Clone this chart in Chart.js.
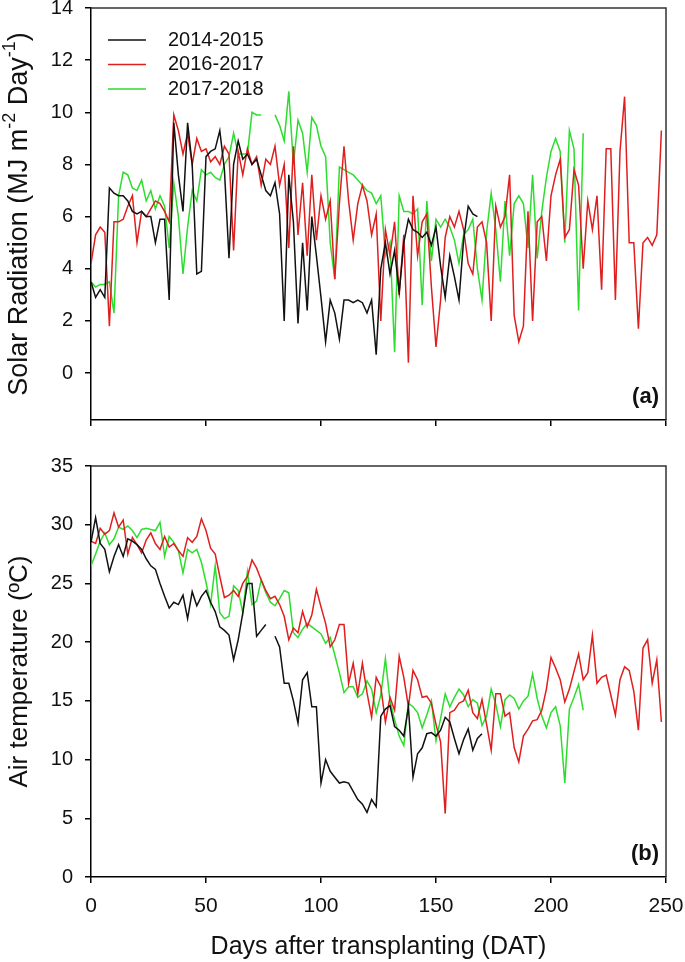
<!DOCTYPE html>
<html>
<head>
<meta charset="utf-8">
<script src="https://cdn.jsdelivr.net/npm/chart.js@4.4.1/dist/chart.umd.min.js"></script>
<style>
html, body { margin: 0; padding: 0; background: #fff; }
#wrap { position: relative; width: 685px; height: 962px; overflow: hidden; }
#topBox { position: absolute; left: 0; top: 0; width: 685px; height: 440px; }
#botBox { position: absolute; left: 0; top: 440px; width: 685px; height: 522px; }
</style>
</head>
<body>
<div id="wrap">
	<div id="topBox"><canvas id="solarChart"></canvas></div>
	<div id="botBox"><canvas id="tempChart"></canvas></div>
</div>
<script>
// days after transplanting, sampled every second day
const days = [0,2,4,6,8,10,12,14,16,18,20,22,24,26,28,30,32,34,36,38,40,42,44,46,48,50,52,54,56,58,
	60,62,64,66,68,70,72,74,76,78,80,82,84,86,88,90,92,94,96,98,100,102,104,106,108,110,112,114,116,118,
	120,122,124,126,128,130,132,134,136,138,140,142,144,146,148,150,152,154,156,158,160,162,164,166,168,170,172,174,176,178,
	180,182,184,186,188,190,192,194,196,198,200,202,204,206,208,210,212,214,216,218,220,222,224,226,228,230,232,234,236,238,
	240,242,244,246,248];
const seasons = ['2014-2015', '2016-2017', '2017-2018'];
const seasonColors = ['#111111', '#e01e1e', '#2ddd2d'];

// solar radiation (MJ m-2 day-1)
const solar1415 = [3.5,2.9,3.2,2.9,7.1,6.9,6.8,6.8,6.6,6.2,6.1,6.2,6.0,6.0,5.0,5.9,5.9,2.8,9.6,7.6,
	6.2,9.6,8.0,3.8,3.9,8.3,8.5,8.6,9.3,7.8,4.4,8.0,8.9,8.2,8.4,8.0,8.2,7.6,7.0,6.8,
	7.3,6.1,2.0,7.6,5.8,1.9,5.0,2.4,6.0,4.5,2.9,1.2,2.8,2.3,1.3,2.8,2.8,2.7,2.8,2.7,
	2.3,2.8,0.7,4.0,5.0,3.8,4.7,3.1,5.0,5.9,5.5,5.4,5.2,5.4,4.9,5.6,4.1,2.9,4.5,3.7,
	2.8,5.1,6.4,6.1,6.0];
const solar1617 = [4.2,5.3,5.6,5.4,1.8,5.8,5.8,5.9,6.4,6.8,5.0,6.2,6.0,6.3,6.6,6.5,6.2,5.8,9.9,9.3,
	8.4,9.2,8.0,9.0,8.5,8.6,8.1,8.3,8.0,8.7,8.4,4.7,8.5,7.6,8.6,8.0,8.3,7.2,8.2,8.0,
	8.7,7.2,8.0,4.8,8.7,5.3,7.3,4.5,7.6,5.1,6.8,5.9,6.6,3.6,6.5,8.7,6.6,5.1,6.5,7.2,
	6.6,5.3,6.1,2.0,5.5,4.5,5.8,3.0,5.3,0.4,6.8,4.5,5.8,6.1,3.3,1.0,2.8,5.2,6.0,5.6,
	6.2,5.5,4.2,3.8,5.6,5.8,5.0,2.0,6.4,5.6,6.0,7.6,2.2,1.2,1.8,6.2,2.0,5.8,6.0,4.3,
	6.8,7.6,8.2,5.2,5.5,7.8,7.2,4.0,6.6,5.5,6.8,3.2,8.6,8.6,2.8,8.5,10.6,5.0,5.0,1.7,
	5.0,5.2,4.9,5.3,9.3];
const solar1718 = [3.5,3.3,3.4,3.4,3.5,2.3,6.8,7.7,7.6,7.1,7.0,7.4,6.6,7.0,6.3,6.8,6.4,4.8,7.3,6.0,
	3.8,5.6,7.0,6.6,7.8,7.6,7.7,7.5,7.4,8.0,8.3,9.2,8.4,8.4,8.4,10.0,9.9,9.9,null,null,
	9.9,9.5,8.9,10.8,8.0,9.7,9.2,7.7,9.8,9.5,8.7,8.3,5.0,3.6,7.9,7.8,7.7,7.6,7.4,7.2,
	7.0,6.9,6.5,6.8,4.5,5.0,0.8,6.8,6.2,6.2,6.1,6.3,2.6,6.6,4.3,5.9,5.6,5.9,5.6,5.1,
	4.2,5.3,5.5,5.9,4.0,2.8,5.4,6.9,5.5,3.5,6.6,4.5,6.5,6.8,6.5,4.8,7.6,4.4,6.2,7.5,
	8.5,9.0,8.5,5.0,9.3,8.6,2.4,9.2];

// air temperature (ºC)
const temp1415 = [28.5,30.6,28.4,27.9,26.0,27.3,28.3,27.3,28.8,28.6,28.3,27.9,27.1,26.5,26.2,25.0,23.9,22.9,23.4,23.2,
	24.0,22.0,24.3,23.1,23.9,24.4,23.4,22.6,21.3,21.0,20.6,18.5,20.2,22.5,25.0,25.0,20.5,21.0,21.5,null,
	20.5,19.6,16.5,16.5,15.0,13.1,16.8,17.4,14.5,14.5,8.0,10.0,9.0,8.5,8.0,8.1,8.0,7.3,6.6,6.2,
	5.5,6.6,6.0,13.7,14.3,14.6,12.8,12.5,12.0,14.5,8.5,10.5,11.0,12.2,12.3,12.0,12.5,13.6,13.2,11.8,
	10.5,11.7,12.6,10.8,11.8,12.2];
const temp1617 = [28.6,28.4,29.7,29.2,29.5,31.0,29.8,30.4,27.5,28.9,28.3,27.6,28.7,29.3,28.4,27.9,29.0,28.1,28.4,27.8,
	27.3,28.9,28.5,29.0,30.5,29.5,28.0,27.5,25.6,23.8,24.0,24.4,23.9,25.0,25.6,27.0,26.3,25.3,24.4,23.7,
	23.9,23.2,22.2,20.2,21.2,20.8,22.6,21.3,22.3,24.5,23.0,21.6,19.6,20.2,21.5,21.5,16.5,18.2,15.6,18.2,
	15.7,13.6,17.0,16.2,13.2,15.3,14.2,18.8,17.0,14.5,17.6,16.8,15.3,15.4,14.8,13.0,11.5,5.4,14.0,14.2,
	14.8,15.0,15.9,14.0,13.5,15.1,13.0,10.8,15.6,15.6,13.7,14.0,11.0,9.8,12.0,12.6,13.3,13.4,14.2,16.0,
	18.7,17.8,16.8,14.9,16.0,17.5,19.0,16.8,17.4,20.6,16.5,17.0,17.2,15.5,13.8,16.8,17.9,17.6,15.8,12.5,
	19.5,20.2,16.5,18.5,13.2];
const temp1718 = [26.5,27.5,28.6,29.3,28.3,28.8,29.8,29.6,29.9,29.5,28.9,29.6,29.7,29.6,29.5,30.2,27.3,29.0,28.5,27.8,
	25.9,27.9,27.6,27.9,26.8,25.1,23.2,26.5,22.5,22.0,22.2,24.8,24.4,22.5,26.0,23.2,23.5,25.3,24.2,23.4,
	23.1,23.7,24.4,24.2,20.8,20.4,21.1,21.6,21.3,21.0,20.7,19.9,20.4,18.9,17.4,15.7,16.2,16.2,15.3,15.6,
	16.7,16.0,14.0,15.5,18.6,15.0,13.4,12.0,11.2,14.8,14.5,14.0,12.7,13.8,15.0,11.6,13.5,15.6,14.5,15.3,
	16.0,15.5,14.5,15.1,14.8,12.9,13.7,16.0,14.7,12.8,15.1,15.5,15.2,14.3,15.0,15.4,17.3,15.2,13.7,12.7,
	14.0,14.5,12.9,8.0,14.3,15.3,16.4,14.2];

const xTicks = [0, 50, 100, 150, 200, 250];
const solarTicks = [0, 2, 4, 6, 8, 10, 12, 14];
const tempTicks = [0, 5, 10, 15, 20, 25, 30, 35];

const FONT = '"Liberation Sans", Arial, sans-serif';
const INK = '#111';

const toPoints = (vals) => vals.map((v, i) => ({x: days[i], y: v}));

const makeDatasets = (series) => series.map((vals, i) => ({
	label: seasons[i],
	data: toPoints(vals),
	borderColor: seasonColors[i],
	borderWidth: 1.5,
	pointRadius: 0,
	tension: 0,
	spanGaps: false
}));

// top + right frame lines of each panel
const frameBox = {
	id: 'frameBox',
	afterDatasetsDraw(chart) {
		const {ctx, chartArea: a} = chart;
		ctx.save();
		ctx.strokeStyle = '#333';
		ctx.lineWidth = 1.5;
		ctx.beginPath();
		ctx.moveTo(a.left, a.top);
		ctx.lineTo(a.right, a.top);
		ctx.lineTo(a.right, a.bottom);
		ctx.stroke();
		ctx.restore();
	}
};

const panelTag = (text) => ({
	id: 'panelTag',
	afterDraw(chart) {
		const {ctx, chartArea: a} = chart;
		ctx.save();
		ctx.font = `bold 22px ${FONT}`;
		ctx.fillStyle = INK;
		ctx.textAlign = 'right';
		ctx.textBaseline = 'alphabetic';
		ctx.fillText(text, a.right - 7, a.bottom - 17);
		ctx.restore();
	}
});

// legend in the upper-left corner of panel (a)
const cornerLegend = {
	id: 'cornerLegend',
	afterDraw(chart) {
		const {ctx, chartArea: a} = chart;
		ctx.save();
		ctx.font = `20px ${FONT}`;
		ctx.textBaseline = 'middle';
		chart.data.datasets.forEach((ds, i) => {
			const y = a.top + 32 + i * 24.5;
			ctx.strokeStyle = ds.borderColor;
			ctx.lineWidth = 1.5;
			ctx.beginPath();
			ctx.moveTo(a.left + 17, y);
			ctx.lineTo(a.left + 55, y);
			ctx.stroke();
			ctx.fillStyle = INK;
			ctx.fillText(ds.label, a.left + 77, y);
		});
		ctx.restore();
	}
};

// y title of panel (a), with superscripts
const solarTitle = {
	id: 'solarTitle',
	afterDraw(chart) {
		const {ctx, chartArea: a} = chart;
		const big = `27px ${FONT}`;
		const small = `18px ${FONT}`;
		const parts = [['Solar Radiation (MJ m', big, 0], ['-2', small, -10], [' Day', big, 0], ['-1', small, -10], [')', big, 0]];
		ctx.save();
		let total = 0;
		parts.forEach(p => { ctx.font = p[1]; total += ctx.measureText(p[0]).width; });
		ctx.translate(20, (a.top + a.bottom) / 2);
		ctx.rotate(-Math.PI / 2);
		ctx.textBaseline = 'middle';
		ctx.fillStyle = INK;
		let x = -total / 2;
		parts.forEach(p => {
			ctx.font = p[1];
			ctx.fillText(p[0], x, p[2]);
			x += ctx.measureText(p[0]).width;
		});
		ctx.restore();
	}
};

const axisLine = {display: true, color: '#000', width: 1.5};
const tickMarks = {display: true, drawOnChartArea: false, drawTicks: true, tickLength: 6, color: '#000', lineWidth: 1.5};

// keep the plot box fixed: no extra room reserved for end labels
const noEdgePadding = (axis) => {
	axis.paddingLeft = 0;
	axis.paddingRight = 0;
	axis.paddingTop = 0;
	axis.paddingBottom = 0;
};

const xScale = (showLabels, height) => ({
	type: 'linear',
	min: 0,
	max: 250,
	border: axisLine,
	grid: tickMarks,
	afterBuildTicks: (axis) => { axis.ticks = xTicks.map(v => ({value: v})); },
	afterFit: (axis) => { axis.height = height; noEdgePadding(axis); },
	ticks: {display: showLabels, autoSkip: false, maxRotation: 0, padding: 11, color: INK, font: {family: FONT, size: 21}},
	title: {display: showLabels, text: 'Days after transplanting (DAT)', color: INK, font: {family: FONT, size: 25}, padding: {top: 0, bottom: 0}}
});

const yScale = (min, max, tickVals, title) => ({
	min: min,
	max: max,
	border: axisLine,
	grid: tickMarks,
	afterBuildTicks: (axis) => { axis.ticks = tickVals.map(v => ({value: v})); },
	afterFit: (axis) => { axis.width = 91; noEdgePadding(axis); },
	ticks: {padding: 12, color: INK, font: {family: FONT, size: 20}},
	title: {display: !!title, text: title, color: INK, font: {family: FONT, size: 26}, padding: {top: 4, bottom: 0}}
});

const baseOptions = (padTop, scales) => ({
	responsive: true,
	maintainAspectRatio: false,
	devicePixelRatio: 1,
	animation: false,
	layout: {padding: {top: padTop, right: 19, bottom: 0, left: 0}},
	plugins: {legend: {display: false}, tooltip: {enabled: false}},
	scales: scales
});

document.addEventListener('DOMContentLoaded', () => {
	new Chart(document.getElementById('solarChart'), {
		type: 'line',
		data: {datasets: makeDatasets([solar1415, solar1617, solar1718])},
		options: baseOptions(8, {x: xScale(false, 20), y: yScale(-1.8, 14, solarTicks, '')}),
		plugins: [frameBox, cornerLegend, solarTitle, panelTag('(a)')]
	});

	new Chart(document.getElementById('tempChart'), {
		type: 'line',
		data: {datasets: makeDatasets([temp1415, temp1617, temp1718])},
		options: baseOptions(26, {x: xScale(true, 85), y: yScale(0, 35, tempTicks, 'Air temperature (ºC)')}),
		plugins: [frameBox, panelTag('(b)')]
	});
});
</script>
</body>
</html>
